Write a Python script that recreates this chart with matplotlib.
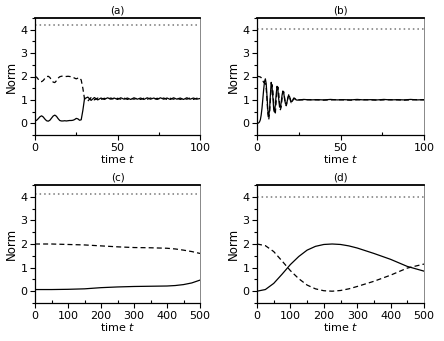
import numpy as np
import matplotlib
matplotlib.use("Agg")
import matplotlib.pyplot as plt
from matplotlib.ticker import MultipleLocator

plt.rcParams['font.family'] = ['DejaVu Sans']

# ---------------- data ----------------
# Panel (a)
a_t = list(range(0, 31)) + list(range(32, 101, 2))
a_solid = [0.10, 0.13, 0.20, 0.28, 0.32, 0.27, 0.18, 0.11, 0.09, 0.13,
           0.22, 0.31, 0.35, 0.30, 0.20, 0.12, 0.10, 0.10, 0.11, 0.10,
           0.11, 0.12, 0.12, 0.13, 0.16, 0.21, 0.19, 0.13, 0.15, 0.55,
           1.05,
           1.12, 0.98, 1.10, 1.00, 1.08, 1.02, 1.09, 1.03, 1.08, 1.02,
           1.09, 1.03, 1.08, 1.02, 1.09, 1.03, 1.08, 1.02, 1.09, 1.03,
           1.08, 1.02, 1.09, 1.03, 1.08, 1.02, 1.09, 1.03, 1.08, 1.02,
           1.09, 1.03, 1.08, 1.03, 1.06]
a_dashed = [2.00, 1.97, 1.88, 1.80, 1.78, 1.83, 1.92, 1.99, 2.01, 1.96,
            1.85, 1.76, 1.74, 1.82, 1.93, 1.99, 2.01, 2.02, 2.01, 2.00,
            2.01, 2.00, 1.99, 1.97, 1.93, 1.90, 1.93, 1.95, 1.85, 1.50,
            1.05,
            0.95, 1.10, 1.00, 1.08, 1.02, 1.07, 1.03, 1.08, 1.02, 1.07,
            1.03, 1.08, 1.02, 1.07, 1.03, 1.08, 1.02, 1.07, 1.03, 1.08,
            1.02, 1.07, 1.03, 1.08, 1.02, 1.07, 1.03, 1.08, 1.02, 1.07,
            1.03, 1.08, 1.02, 1.07, 1.05]
a_dot = 4.22

# Panel (b)
b_t = [x * 0.5 for x in range(0, 49)] + list(range(28, 101, 4))
b_solid = [0.00, 0.00, 0.02, 0.06, 0.15, 0.35, 0.65, 1.05, 1.45, 1.78,
           1.90, 1.70, 1.15, 0.55, 0.32, 0.55, 1.20, 1.75, 1.55, 1.10,
           0.60, 0.48, 0.80, 1.25, 1.58, 1.45, 1.05, 0.70, 0.68, 0.90,
           1.20, 1.38, 1.30, 1.05, 0.85, 0.82, 0.92, 1.08, 1.18, 1.14,
           1.02, 0.93, 0.93, 0.99, 1.05, 1.07, 1.04, 1.00, 0.99,
           1.02, 1.00, 1.01, 1.00, 1.02, 1.00, 1.01, 1.00, 1.02, 1.00,
           1.01, 1.00, 1.02, 1.00, 1.01, 1.00, 1.02, 1.00, 1.01]
b_dashed = [2.00, 2.00, 2.00, 1.99, 1.98, 1.95, 1.90, 1.82, 1.75, 1.72,
            1.70, 1.50, 1.00, 0.40, 0.15, 0.40, 1.00, 1.50, 1.65, 1.40,
            0.85, 0.40, 0.45, 0.95, 1.40, 1.55, 1.30, 0.85, 0.58, 0.70,
            1.05, 1.35, 1.35, 1.10, 0.85, 0.75, 0.88, 1.10, 1.22, 1.15,
            0.98, 0.88, 0.90, 1.00, 1.08, 1.06, 1.01, 0.98, 1.00,
            1.00, 1.01, 1.00, 0.99, 1.00, 1.01, 1.00, 0.99, 1.00, 1.01,
            1.00, 0.99, 1.00, 1.01, 1.00, 0.99, 1.00, 1.01, 1.00]
b_dot = 4.05

# Panel (c)
c_t = [0, 50, 100, 150, 200, 250, 300, 350, 400, 425, 450, 475, 500]
c_solid = [0.07, 0.07, 0.08, 0.10, 0.15, 0.18, 0.20, 0.21, 0.22, 0.24, 0.28, 0.35, 0.47]
c_dashed = [2.00, 2.00, 1.98, 1.96, 1.92, 1.88, 1.85, 1.84, 1.82, 1.79, 1.74, 1.68, 1.60]
c_dot = 4.10

# Panel (d)
d_t = [0, 25, 50, 75, 100, 125, 150, 175, 200, 225, 250, 275, 300, 350, 400, 450, 500]
d_solid = [0.00, 0.07, 0.33, 0.72, 1.13, 1.47, 1.74, 1.90, 1.98, 2.00, 1.98, 1.92,
           1.83, 1.60, 1.35, 1.05, 0.85]
d_dashed = [2.00, 1.93, 1.68, 1.28, 0.87, 0.53, 0.26, 0.10, 0.02, 0.00, 0.03, 0.10,
            0.20, 0.42, 0.68, 0.98, 1.15]
d_dot = 4.00

panels = [
    ("(a)", a_t, a_solid, a_dashed, a_dot, 100, 50, 25),
    ("(b)", b_t, b_solid, b_dashed, b_dot, 100, 50, 25),
    ("(c)", c_t, c_solid, c_dashed, c_dot, 500, 100, 50),
    ("(d)", d_t, d_solid, d_dashed, d_dot, 500, 100, 50),
]

W, H = 444, 341
fig = plt.figure(figsize=(W / 100, H / 100), dpi=100)

rects = [
    (35, 18, 165, 117),
    (257, 18, 167, 117),
    (35, 185, 165, 118),
    (257, 185, 167, 118),
]

for (title, t, s, d, dot, xmax, xmaj, xmin), (l, tp, w, h) in zip(panels, rects):
    ax = fig.add_axes([l / W, 1 - (tp + h) / H, w / W, h / H])
    ax.plot(t, s, color='black', lw=0.9, solid_joinstyle='round')
    ax.plot(t, d, color='black', lw=0.9, dashes=(4, 2.5))
    ax.axhline(dot, color='#777777', lw=1.1, ls=(0, (1, 2)))
    ax.set_xlim(0, xmax)
    ax.set_ylim(-0.5, 4.5)
    ax.xaxis.set_major_locator(MultipleLocator(xmaj))
    ax.xaxis.set_minor_locator(MultipleLocator(xmin))
    ax.yaxis.set_major_locator(MultipleLocator(1))
    ax.yaxis.set_minor_locator(MultipleLocator(0.5))
    ax.tick_params(axis='x', which='major', direction='out', length=3.5, width=0.8, pad=2, labelsize=8)
    ax.tick_params(axis='x', which='minor', direction='in', length=2.5, width=0.8)
    ax.tick_params(axis='y', which='major', direction='out', length=3.5, width=0.8, pad=2, labelsize=8)
    ax.tick_params(axis='y', which='minor', direction='out', length=2.0, width=0.8)
    ax.spines['top'].set_linewidth(1.3)
    ax.spines['right'].set_color('#888888')
    ax.spines['right'].set_linewidth(0.7)
    ax.spines['left'].set_linewidth(0.9)
    ax.spines['bottom'].set_linewidth(0.9)
    ax.set_title(title, fontsize=7.5, pad=3)
    ax.set_xlabel('time $\\it{t}$', fontsize=8, labelpad=0)
    ax.set_ylabel('Norm', fontsize=8.5, labelpad=2)

fig.savefig('out.png', dpi=100)
